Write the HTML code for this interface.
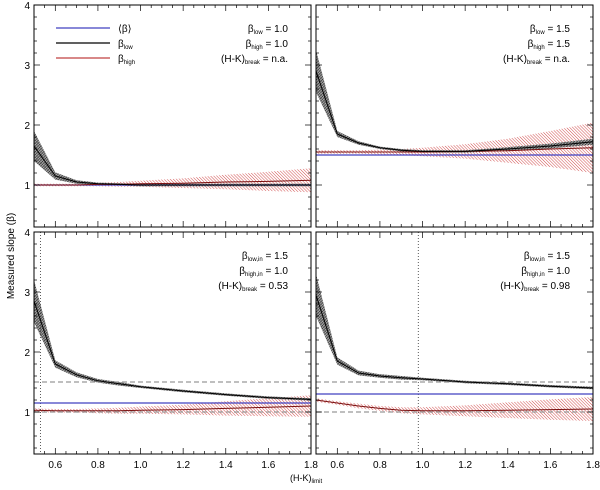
<!DOCTYPE html>
<html><head><meta charset="utf-8"><style>
body{margin:0;background:#fff;width:600px;height:485px;overflow:hidden}
svg text{font-family:"Liberation Sans",sans-serif;fill:#000}
</style></head><body>
<svg id="chart" width="600" height="485" xmlns="http://www.w3.org/2000/svg">
<defs>
<pattern id="hatchK" width="2" height="2" patternUnits="userSpaceOnUse" patternTransform="rotate(45)"><rect width="2" height="2" fill="#aaa"/><line x1="0" y1="0" x2="0" y2="2" stroke="#111" stroke-width="1"/><line x1="0" y1="0" x2="2" y2="0" stroke="#333" stroke-width="0.6"/></pattern>
<pattern id="hatchR" width="2.2" height="2.2" patternUnits="userSpaceOnUse" patternTransform="rotate(-45)"><line x1="0" y1="0" x2="0" y2="2.2" stroke="#d04848" stroke-width="1"/></pattern>
</defs>
<text x="14" y="256" font-size="10" transform="rotate(-90 14 256)" text-anchor="middle">Measured slope (β)</text>
<text x="290" y="481" font-size="9">(H-K)<tspan font-size="6" dy="2">limit</tspan></text>
</svg>
<script>
const xCats=[0.5,0.6,0.7,0.8,0.9,1.0,1.2,1.4,1.6,1.8];
const lowTL=[1.65,1.15,1.05,1.02,1.01,1.0,1.0,1.0,1.0,1.0];
const lowTLerr=[0.25,0.06,0.03,0.02,0.02,0.02,0.02,0.02,0.02,0.02];
const highTL=[1.0,1.0,1.0,1.01,1.01,1.02,1.03,1.05,1.06,1.08];
const highTLerr=[0.02,0.02,0.02,0.03,0.04,0.05,0.08,0.12,0.16,0.2];
const lowTR=[2.9,1.85,1.7,1.62,1.58,1.56,1.56,1.6,1.65,1.72];
const lowTRerr=[0.35,0.05,0.03,0.02,0.02,0.02,0.02,0.03,0.04,0.05];
const highTR=[1.55,1.55,1.55,1.55,1.55,1.55,1.56,1.57,1.6,1.62];
const highTRerr=[0.03,0.03,0.03,0.04,0.05,0.07,0.12,0.2,0.3,0.42];
const lowBL=[2.85,1.8,1.62,1.52,1.47,1.42,1.35,1.29,1.24,1.21];
const lowBLerr=[0.35,0.06,0.04,0.03,0.03,0.02,0.02,0.02,0.02,0.02];
const highBL=[1.03,1.02,1.02,1.02,1.02,1.03,1.04,1.06,1.08,1.1];
const highBLerr=[0.03,0.03,0.03,0.04,0.05,0.06,0.08,0.12,0.15,0.18];
const lowBR=[2.95,1.85,1.65,1.6,1.57,1.55,1.5,1.47,1.43,1.4];
const lowBRerr=[0.35,0.06,0.04,0.03,0.03,0.02,0.02,0.02,0.02,0.02];
const highBR=[1.2,1.15,1.1,1.06,1.03,1.02,1.02,1.03,1.04,1.05];
const highBRerr=[0.03,0.03,0.04,0.04,0.05,0.06,0.09,0.13,0.17,0.2];
const meanVals=[1.0,1.5,1.15,1.3];
const dashVals=[[],[],[1.5,1.0],[1.5,1.0]];
const breakVals=[null,null,0.53,0.98];
const xTicks=[0.6,0.8,1.0,1.2,1.4,1.6,1.8];
const yTicks=[1,2,3,4];
const panels=[
 {x0:34,x1:311,y0:5,low:lowTL,le:lowTLerr,high:highTL,he:highTLerr,t:["β<tspan font-size='6' dy='2'>low</tspan><tspan dy='-2'> = 1.0</tspan>","β<tspan font-size='6' dy='2'>high</tspan><tspan dy='-2'> = 1.0</tspan>","(H-K)<tspan font-size='6' dy='2'>break</tspan><tspan dy='-2'> = n.a.</tspan>"]},
 {x0:316,x1:593,y0:5,low:lowTR,le:lowTRerr,high:highTR,he:highTRerr,t:["β<tspan font-size='6' dy='2'>low</tspan><tspan dy='-2'> = 1.5</tspan>","β<tspan font-size='6' dy='2'>high</tspan><tspan dy='-2'> = 1.5</tspan>","(H-K)<tspan font-size='6' dy='2'>break</tspan><tspan dy='-2'> = n.a.</tspan>"]},
 {x0:34,x1:311,y0:232,low:lowBL,le:lowBLerr,high:highBL,he:highBLerr,t:["β<tspan font-size='6' dy='2'>low,in</tspan><tspan dy='-2'> = 1.5</tspan>","β<tspan font-size='6' dy='2'>high,in</tspan><tspan dy='-2'> = 1.0</tspan>","(H-K)<tspan font-size='6' dy='2'>break</tspan><tspan dy='-2'> = 0.53</tspan>"]},
 {x0:316,x1:593,y0:232,low:lowBR,le:lowBRerr,high:highBR,he:highBRerr,t:["β<tspan font-size='6' dy='2'>low,in</tspan><tspan dy='-2'> = 1.5</tspan>","β<tspan font-size='6' dy='2'>high,in</tspan><tspan dy='-2'> = 1.0</tspan>","(H-K)<tspan font-size='6' dy='2'>break</tspan><tspan dy='-2'> = 0.98</tspan>"]}
];
const svg=document.getElementById('chart');
const NS='http://www.w3.org/2000/svg';
function mk(tag,attrs,parent){const e=document.createElementNS(NS,tag);for(const k in attrs)e.setAttribute(k,attrs[k]);(parent||svg).appendChild(e);return e;}
panels.forEach((p,i)=>{
 const g=mk('g',{});
 
 
 const sx=v=>p.x0+(v-0.5)/1.3*(p.x1-p.x0);
 const sy=v=>p.y0+(4-v)*60;
 const yb=sy(0.3);
 const pathOf=arr=>xCats.map((x,j)=>(j?'L':'M')+sx(x).toFixed(1)+','+sy(arr[j]).toFixed(1)).join('');
 const band=(m,e)=>{let d=xCats.map((x,j)=>(j?'L':'M')+sx(x).toFixed(1)+','+sy(m[j]+e[j]).toFixed(1)).join('');
   for(let j=xCats.length-1;j>=0;j--)d+='L'+sx(xCats[j]).toFixed(1)+','+sy(m[j]-e[j]).toFixed(1);return d+'Z';};
 const rb=mk('path',{d:band(p.high,p.he),fill:'url(#hatchR)',stroke:'none'},g);
 
 
 const kb=mk('path',{d:band(p.low,p.le),fill:'url(#hatchK)',stroke:'none'},g);
 
 
 dashVals[i].forEach(v=>{const l=mk('line',{x1:p.x0,x2:p.x1,y1:sy(v),y2:sy(v),stroke:'#999','stroke-dasharray':'5,3','stroke-width':1.3},g);
  
  });
 if(breakVals[i]!==null){const l=mk('line',{x1:sx(breakVals[i]),x2:sx(breakVals[i]),y1:p.y0,y2:yb,stroke:'#333','stroke-dasharray':'1,2','stroke-width':0.8},g);
  
  }
 const bl=mk('line',{x1:p.x0,x2:p.x1,y1:sy(meanVals[i]),y2:sy(meanVals[i]),stroke:'#4040c0','stroke-width':1.2},g);
 
 
 const hl=mk('path',{d:pathOf(p.high),fill:'none',stroke:'#7a1010','stroke-width':1},g);
 
 
 const ll=mk('path',{d:pathOf(p.low),fill:'none',stroke:'#000','stroke-width':1},g);
 
 
 const fr=mk('rect',{x:p.x0,y:p.y0,width:p.x1-p.x0,height:yb-p.y0,fill:'none',stroke:'#000','stroke-width':1},g);
 
 
 for(let v=0.5;v<=1.801;v+=0.05){const x=sx(v);const L=(Math.round(v*100)%20===0)?6:3;
  mk('line',{x1:x,x2:x,y1:yb,y2:yb-L,stroke:'#000','stroke-width':0.7},g);mk('line',{x1:x,x2:x,y1:p.y0,y2:p.y0+L,stroke:'#000','stroke-width':0.7},g);}
 for(let v=0.4;v<=4.001;v+=0.2){const y=sy(v);const L=(Math.abs(v-Math.round(v))<0.01)?6:3;
  mk('line',{x1:p.x0,x2:p.x0+L,y1:y,y2:y,stroke:'#000','stroke-width':0.7},g);mk('line',{x1:p.x1,x2:p.x1-L,y1:y,y2:y,stroke:'#000','stroke-width':0.7},g);}
 if(i%2===0) yTicks.forEach(v=>{const t=mk('text',{x:p.x0-4,y:sy(v)+4,'font-size':10,'text-anchor':'end'},g);t.textContent=v;
  
  });
 if(i>=2) xTicks.forEach(v=>{const t=mk('text',{x:sx(v),y:yb+14,'font-size':10,'text-anchor':'middle'},g);t.textContent=v.toFixed(1);
  
  });
 p.t.forEach((s,k)=>{const t=mk('text',{x:p.x1-23,y:p.y0+27+k*15,'font-size':10,'text-anchor':'end'},g);t.innerHTML=s;
  
  });
});
const lg=mk('g',{});


[['#4040c0','⟨β⟩',''],['#000','β','low'],['#c04040','β','high']].forEach((e,k)=>{
 const y=28+k*15;
 mk('line',{x1:56,x2:110,y1:y,y2:y,stroke:e[0],'stroke-width':1.2},lg);
 const t=mk('text',{x:118,y:y+4,'font-size':10},lg);
 t.innerHTML=e[1]+(e[2]?"<tspan font-size='6' dy='2'>"+e[2]+"</tspan>":'');
 
 
});
</script>
</body></html>
